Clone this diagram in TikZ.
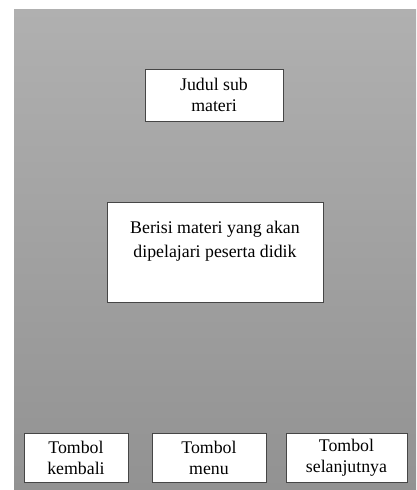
\documentclass[tikz,border=0pt]{standalone}
\usepackage{fontspec}
\setmainfont{Liberation Serif}
\definecolor{bgtop}{RGB}{176,176,176}
\definecolor{bgbot}{RGB}{146,146,146}
\definecolor{frame}{RGB}{70,70,70}
\tikzset{
  panel/.style={draw=frame, line width=0.9pt, fill=white, inner sep=0pt,
                align=center, font=\fontsize{17.8}{21}\selectfont},
  label/.style={inner sep=0pt, align=center, font=\fontsize{17.8}{23.5}\selectfont}
}
\begin{document}
\begin{tikzpicture}[x=1pt,y=-1pt]
  \useasboundingbox (0,0) rectangle (416,490);
  % page background
  \fill[white] (0,0) rectangle (416,490);
  \shade[top color=bgtop, bottom color=bgbot] (14,9) rectangle (416,490);

  % title
  \node[panel, minimum width=138pt, minimum height=52pt] (title) at (214,95)
    {Judul sub\\materi};

  % content area
  \node[panel, minimum width=216pt, minimum height=100pt] (content) at (215,252) {};
  \node[label] (contenttext) at (215,241)
    {Berisi materi yang akan\\dipelajari peserta didik};

  % navigation buttons
  \node[panel, minimum width=104pt, minimum height=49pt] (back) at (76,457.5)
    {Tombol\\kembali};
  \node[panel, minimum width=114pt, minimum height=49pt] (menu) at (209,457.5)
    {Tombol\\menu};
  \node[panel, minimum width=121pt, minimum height=49pt] (next) at (346.5,457.5)
    {Tombol\\selanjutnya};
\end{tikzpicture}
\end{document}
